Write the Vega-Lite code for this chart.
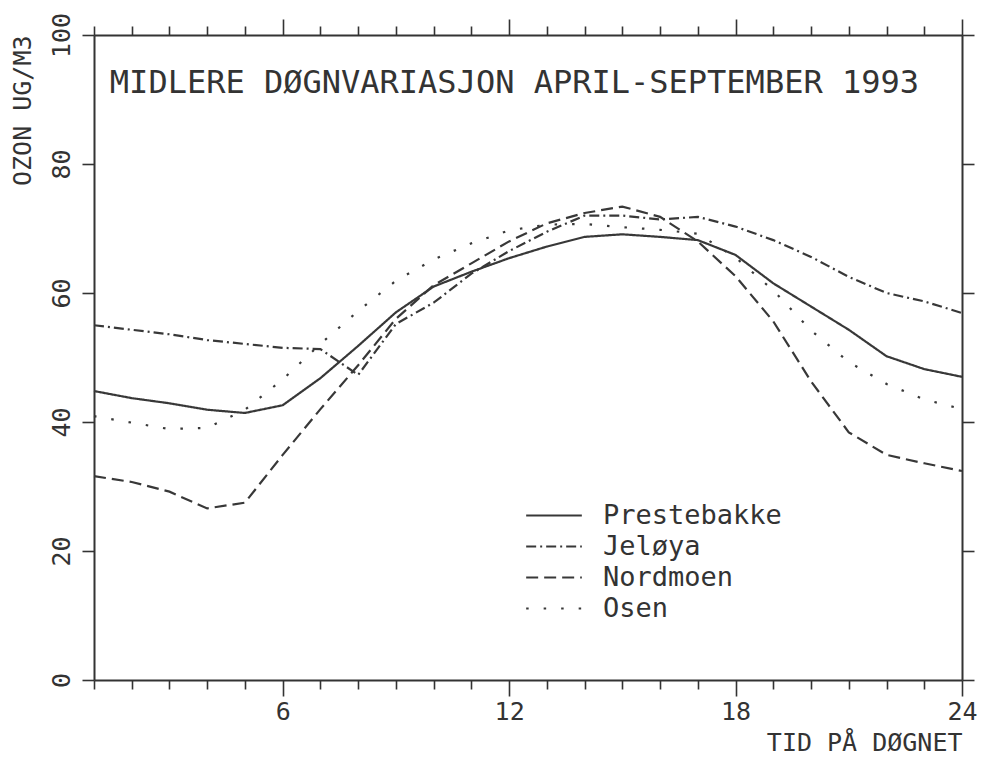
{
  "$schema": "https://vega.github.io/schema/vega-lite/v6.json",
  "autosize": {"type": "none"},
  "padding": {"left": 94, "top": 35, "right": 19, "bottom": 84},
  "width": 868,
  "height": 645,
  "background": "white",
  "config": {
    "view": {"stroke": null},
    "font": "DejaVu Sans Mono",
    "axis": {"grid": false, "domainColor": "#333", "domainWidth": 2, "tickColor": "#333", "tickWidth": 1.6, "labelColor": "#333", "titleColor": "#333", "labelFont": "DejaVu Sans Mono", "titleFont": "DejaVu Sans Mono", "labelFontWeight": "normal", "titleFontWeight": "normal"},
    "legend": {"orient": "none", "legendX": 431, "legendY": 465, "padding": 0, "symbolType": "stroke", "symbolSize": 3100, "symbolStrokeWidth": 2, "labelFont": "DejaVu Sans Mono", "labelFontSize": 27, "labelColor": "#333", "labelOffset": 20, "labelLimit": 0, "clipHeight": 31, "rowPadding": 0, "title": null}
  },
  "datasets": {
    "ozone": [
      {"hour": 1, "station": "Prestebakke", "ozone": 44.8}, {"hour": 2, "station": "Prestebakke", "ozone": 43.7}, {"hour": 3, "station": "Prestebakke", "ozone": 42.9}, {"hour": 4, "station": "Prestebakke", "ozone": 41.9}, {"hour": 5, "station": "Prestebakke", "ozone": 41.4}, {"hour": 6, "station": "Prestebakke", "ozone": 42.6}, {"hour": 7, "station": "Prestebakke", "ozone": 46.8}, {"hour": 8, "station": "Prestebakke", "ozone": 51.8}, {"hour": 9, "station": "Prestebakke", "ozone": 57.0}, {"hour": 10, "station": "Prestebakke", "ozone": 61.0}, {"hour": 11, "station": "Prestebakke", "ozone": 63.3}, {"hour": 12, "station": "Prestebakke", "ozone": 65.4}, {"hour": 13, "station": "Prestebakke", "ozone": 67.2}, {"hour": 14, "station": "Prestebakke", "ozone": 68.7}, {"hour": 15, "station": "Prestebakke", "ozone": 69.1}, {"hour": 16, "station": "Prestebakke", "ozone": 68.7}, {"hour": 17, "station": "Prestebakke", "ozone": 68.2}, {"hour": 18, "station": "Prestebakke", "ozone": 65.9}, {"hour": 19, "station": "Prestebakke", "ozone": 61.5}, {"hour": 20, "station": "Prestebakke", "ozone": 57.9}, {"hour": 21, "station": "Prestebakke", "ozone": 54.3}, {"hour": 22, "station": "Prestebakke", "ozone": 50.2}, {"hour": 23, "station": "Prestebakke", "ozone": 48.2}, {"hour": 24, "station": "Prestebakke", "ozone": 47.0},
      {"hour": 1, "station": "Jeløya", "ozone": 55.0}, {"hour": 2, "station": "Jeløya", "ozone": 54.3}, {"hour": 3, "station": "Jeløya", "ozone": 53.6}, {"hour": 4, "station": "Jeløya", "ozone": 52.7}, {"hour": 5, "station": "Jeløya", "ozone": 52.1}, {"hour": 6, "station": "Jeløya", "ozone": 51.5}, {"hour": 7, "station": "Jeløya", "ozone": 51.3}, {"hour": 8, "station": "Jeløya", "ozone": 47.3}, {"hour": 9, "station": "Jeløya", "ozone": 55.2}, {"hour": 10, "station": "Jeløya", "ozone": 58.5}, {"hour": 11, "station": "Jeløya", "ozone": 63.0}, {"hour": 12, "station": "Jeløya", "ozone": 66.5}, {"hour": 13, "station": "Jeløya", "ozone": 69.5}, {"hour": 14, "station": "Jeløya", "ozone": 72.0}, {"hour": 15, "station": "Jeløya", "ozone": 72.0}, {"hour": 16, "station": "Jeløya", "ozone": 71.4}, {"hour": 17, "station": "Jeløya", "ozone": 71.8}, {"hour": 18, "station": "Jeløya", "ozone": 70.3}, {"hour": 19, "station": "Jeløya", "ozone": 68.2}, {"hour": 20, "station": "Jeløya", "ozone": 65.6}, {"hour": 21, "station": "Jeløya", "ozone": 62.5}, {"hour": 22, "station": "Jeløya", "ozone": 60.0}, {"hour": 23, "station": "Jeløya", "ozone": 58.7}, {"hour": 24, "station": "Jeløya", "ozone": 56.9},
      {"hour": 1, "station": "Nordmoen", "ozone": 31.6}, {"hour": 2, "station": "Nordmoen", "ozone": 30.7}, {"hour": 3, "station": "Nordmoen", "ozone": 29.2}, {"hour": 4, "station": "Nordmoen", "ozone": 26.6}, {"hour": 5, "station": "Nordmoen", "ozone": 27.5}, {"hour": 6, "station": "Nordmoen", "ozone": 34.9}, {"hour": 7, "station": "Nordmoen", "ozone": 42.0}, {"hour": 8, "station": "Nordmoen", "ozone": 48.8}, {"hour": 9, "station": "Nordmoen", "ozone": 56.0}, {"hour": 10, "station": "Nordmoen", "ozone": 61.2}, {"hour": 11, "station": "Nordmoen", "ozone": 64.6}, {"hour": 12, "station": "Nordmoen", "ozone": 68.0}, {"hour": 13, "station": "Nordmoen", "ozone": 70.8}, {"hour": 14, "station": "Nordmoen", "ozone": 72.4}, {"hour": 15, "station": "Nordmoen", "ozone": 73.4}, {"hour": 16, "station": "Nordmoen", "ozone": 71.8}, {"hour": 17, "station": "Nordmoen", "ozone": 68.0}, {"hour": 18, "station": "Nordmoen", "ozone": 62.6}, {"hour": 19, "station": "Nordmoen", "ozone": 55.6}, {"hour": 20, "station": "Nordmoen", "ozone": 46.3}, {"hour": 21, "station": "Nordmoen", "ozone": 38.4}, {"hour": 22, "station": "Nordmoen", "ozone": 34.9}, {"hour": 23, "station": "Nordmoen", "ozone": 33.6}, {"hour": 24, "station": "Nordmoen", "ozone": 32.4},
      {"hour": 1, "station": "Osen", "ozone": 40.9}, {"hour": 2, "station": "Osen", "ozone": 39.9}, {"hour": 3, "station": "Osen", "ozone": 38.9}, {"hour": 4, "station": "Osen", "ozone": 39.1}, {"hour": 5, "station": "Osen", "ozone": 41.9}, {"hour": 6, "station": "Osen", "ozone": 46.6}, {"hour": 7, "station": "Osen", "ozone": 52.1}, {"hour": 8, "station": "Osen", "ozone": 57.2}, {"hour": 9, "station": "Osen", "ozone": 61.9}, {"hour": 10, "station": "Osen", "ozone": 65.2}, {"hour": 11, "station": "Osen", "ozone": 67.7}, {"hour": 12, "station": "Osen", "ozone": 69.7}, {"hour": 13, "station": "Osen", "ozone": 70.6}, {"hour": 14, "station": "Osen", "ozone": 70.7}, {"hour": 15, "station": "Osen", "ozone": 70.2}, {"hour": 16, "station": "Osen", "ozone": 69.8}, {"hour": 17, "station": "Osen", "ozone": 69.2}, {"hour": 18, "station": "Osen", "ozone": 65.5}, {"hour": 19, "station": "Osen", "ozone": 60.4}, {"hour": 20, "station": "Osen", "ozone": 54.2}, {"hour": 21, "station": "Osen", "ozone": 49.3}, {"hour": 22, "station": "Osen", "ozone": 45.9}, {"hour": 23, "station": "Osen", "ozone": 43.5}, {"hour": 24, "station": "Osen", "ozone": 42.0}
    ],
    "heading": [
      {"hour": 1.42, "ozone": 92.5, "label": "MIDLERE DØGNVARIASJON APRIL-SEPTEMBER 1993"}
    ]
  },
  "layer": [
    {
      "data": {"name": "ozone"},
      "mark": {"type": "line", "color": "#383838", "strokeWidth": 2.2, "clip": false},
      "encoding": {
        "x": {
          "field": "hour", "type": "quantitative",
          "scale": {"domain": [1, 24], "nice": false, "zero": false},
          "axis": {
            "orient": "bottom",
            "values": [1,2,3,4,5,6,7,8,9,10,11,12,13,14,15,16,17,18,19,20,21,22,23,24],
            "tickSize": {"condition": {"test": "datum.value % 6 === 0", "value": 16}, "value": 9},
            "labelExpr": "datum.value % 6 === 0 ? datum.label : ''",
            "labelFontSize": 25, "labelPadding": 3, "labelFlush": false,
            "title": "TID PÅ DØGNET", "titleAnchor": "end", "titleFontSize": 25, "titlePadding": 6
          }
        },
        "y": {
          "field": "ozone", "type": "quantitative",
          "scale": {"domain": [0, 100], "nice": false},
          "axis": {
            "orient": "left",
            "values": [0, 20, 40, 60, 80, 100],
            "tickSize": 12,
            "labelAngle": -90, "labelFontSize": 25, "labelPadding": 8, "labelAlign": "center", "labelBaseline": "bottom",
            "title": "OZON UG/M3", "titleAnchor": "end", "titleAngle": -90, "titleFontSize": 25, "titlePadding": 14
          }
        },
        "strokeDash": {
          "field": "station", "type": "nominal",
          "scale": {"domain": ["Prestebakke", "Jeløya", "Nordmoen", "Osen"], "range": [[1, 0], [10, 4, 2, 4], [12, 6], [2.5, 15]]}
        }
      }
    },
    {
      "data": {"name": "heading"},
      "mark": {"type": "text", "align": "left", "baseline": "middle", "font": "DejaVu Sans Mono", "fontSize": 32, "color": "#333"},
      "encoding": {
        "x": {
          "field": "hour", "type": "quantitative",
          "scale": {"domain": [1, 24], "nice": false, "zero": false},
          "axis": {
            "orient": "top",
            "values": [1,2,3,4,5,6,7,8,9,10,11,12,13,14,15,16,17,18,19,20,21,22,23,24],
            "tickSize": {"condition": {"test": "datum.value % 6 === 0", "value": 16}, "value": 9},
            "labels": false, "title": null
          }
        },
        "y": {
          "field": "ozone", "type": "quantitative",
          "scale": {"domain": [0, 100], "nice": false},
          "axis": {"orient": "right", "values": [0, 20, 40, 60, 80, 100], "tickSize": 12, "labels": false, "title": null}
        },
        "text": {"field": "label"}
      }
    }
  ],
  "resolve": {"axis": {"x": "independent", "y": "independent"}}
}
